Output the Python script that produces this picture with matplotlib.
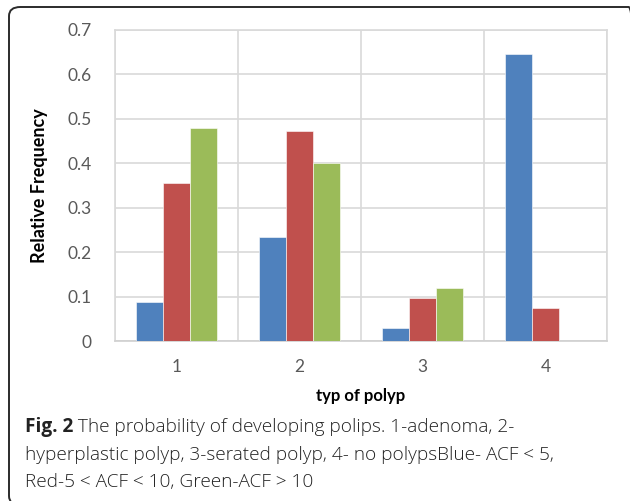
import matplotlib
matplotlib.use("Agg")
import matplotlib.pyplot as plt
from matplotlib.patches import FancyBboxPatch
import numpy as np

categories = ["1", "2", "3", "4"]
blue_acf_lt5 = [0.088, 0.235, 0.029, 0.646]
red_acf_5_10 = [0.355, 0.473, 0.097, 0.075]
green_acf_gt10 = [0.480, 0.400, 0.120, 0.0]
yticks = [0, 0.1, 0.2, 0.3, 0.4, 0.5, 0.6, 0.7]
ytick_labels = ["0", "0.1", "0.2", "0.3", "0.4", "0.5", "0.6", "0.7"]

chart_font = ["Lato", "DejaVu Sans"]
cap_font = ["Open Sans", "DejaVu Sans"]

fig = plt.figure(figsize=(6.30, 5.01), dpi=100)
fig.patch.set_facecolor("white")

# rounded frame
frame = FancyBboxPatch((9 / 630, 1 - 505 / 501), (640 - 9) / 630, (505 - 7) / 501,
                       boxstyle="round,pad=0,rounding_size=0.018",
                       transform=fig.transFigure, facecolor="none",
                       edgecolor="#2b2b2b", linewidth=1.4, zorder=0)
fig.patches.append(frame)

ax = fig.add_axes([115 / 630, 1 - 341 / 501, (607 - 115) / 630, (341 - 30) / 501])
x = np.arange(len(categories))
w = 0.222
kw = dict(width=w, edgecolor="white", linewidth=0.4, zorder=3)
ax.bar(x - w, blue_acf_lt5, color="#4F81BD", **kw)
ax.bar(x, red_acf_5_10, color="#C0504D", **kw)
ax.bar(x + w, green_acf_gt10, color="#9BBB59", **kw)

ax.set_xlim(-0.5, len(categories) - 0.5)
ax.set_ylim(0, 0.7)
ax.set_yticks(yticks)
ax.set_yticklabels(ytick_labels)
ax.set_xticks(x)
ax.set_xticklabels(categories)
ax.set_xticks(np.arange(len(categories) + 1) - 0.5, minor=True)
ax.grid(True, axis="y", which="major", color="#D9D9D9", linewidth=1.2, zorder=0)
ax.grid(True, axis="x", which="minor", color="#D9D9D9", linewidth=1.2, zorder=0)
ax.grid(False, axis="x", which="major")
for s in ax.spines.values():
    s.set_color("#D9D9D9")
    s.set_linewidth(1.2)
ax.spines["bottom"].set_color("#D0D0D0")
ax.tick_params(axis="both", which="both", length=0, colors="#595959", labelsize=12.5)
ax.tick_params(axis="y", pad=17)
ax.tick_params(axis="x", pad=13)
for lab in ax.get_xticklabels() + ax.get_yticklabels():
    lab.set_fontfamily(chart_font)

ax.set_ylabel("Relative Frequency", fontsize=13, fontweight="bold",
              family=chart_font, labelpad=14)
ax.set_xlabel("typ of polyp", fontsize=12, fontweight="bold",
              family=chart_font, labelpad=9)

# caption
cap_size = 13.7
x0 = 25 / 630
y1 = 1 - 432 / 501
dy = 27.5 / 501
cap_color = "#222222"
t_bold = fig.text(x0, y1, "Fig. 2", fontsize=cap_size, fontweight="bold",
                  family=cap_font, va="baseline", color=cap_color)
fig.canvas.draw()
bb = t_bold.get_window_extent()
fig.text(bb.x1 / fig.bbox.width, y1,
         " The probability of developing polips. 1-adenoma, 2-",
         fontsize=cap_size, family=cap_font, fontweight="light",
         va="baseline", color=cap_color)
fig.text(x0, y1 - dy,
         "hyperplastic polyp, 3-serated polyp, 4- no polypsBlue- ACF < 5,",
         fontsize=cap_size, family=cap_font, fontweight="light",
         va="baseline", color=cap_color)
fig.text(x0, y1 - 2 * dy, "Red-5 < ACF < 10, Green-ACF > 10",
         fontsize=cap_size, family=cap_font, fontweight="light",
         va="baseline", color=cap_color)

fig.savefig("out.png", dpi=100)
